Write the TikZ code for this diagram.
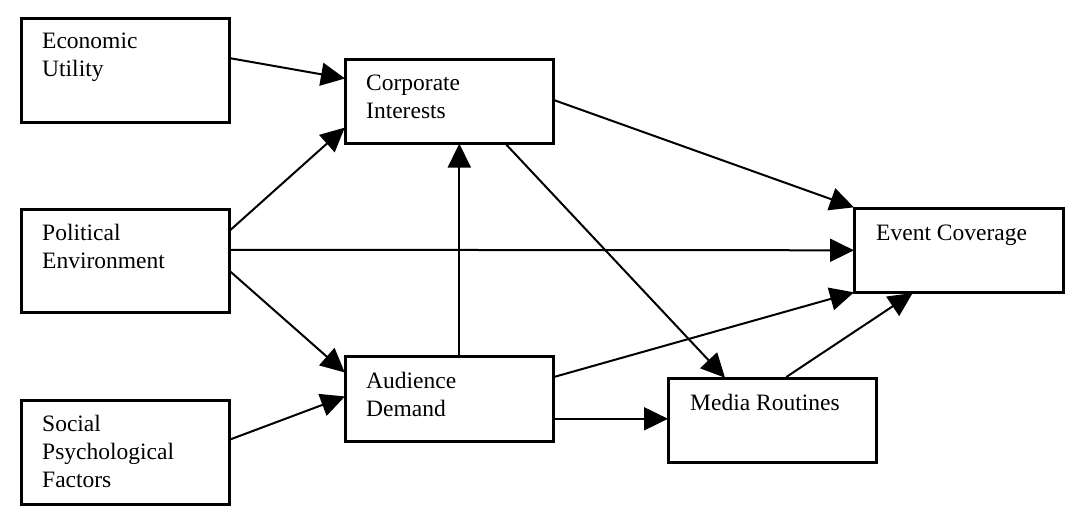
\documentclass[tikz,border=0pt]{standalone}
\usepackage{fontspec}
\setmainfont{Liberation Serif}
\usetikzlibrary{arrows.meta}
\begin{document}
\begin{tikzpicture}[
    x=1pt, y=-1pt,
    every node/.style={font=\fontsize{23.5}{28}\selectfont},
    box/.style={
        rectangle,
        draw,
        line width=2.6pt,
        anchor=north west,
        minimum width=#1,
        inner sep=0pt
    },
    box/.default=208pt,
    caption/.style={
        align=left,
        anchor=base west,
        inner sep=0pt
    },
    link/.style={
        -{Triangle[length=24pt,width=23pt]},
        line width=2pt,
        shorten >=-1pt
    }
]

% Boxes
\node[box, minimum height=104pt] (eu) at (20,17) {};
\node[box, minimum height=103pt] (pe) at (20,208) {};
\node[box, minimum height=104pt] (spf) at (20,399) {};
\node[box, minimum height=84pt] (ci) at (344,58) {};
\node[box, minimum height=85pt] (ad) at (344,355) {};
\node[box, minimum height=84pt] (mr) at (667,377) {};
\node[box=209pt, minimum height=84pt] (ec) at (853,207) {};

% Texts (base = last line)
\node[caption] (eutext) at ([xshift=22pt,yshift=-60pt]eu.north west) {Economic\\Utility};
\node[caption] (petext) at ([xshift=22pt,yshift=-60pt]pe.north west) {Political\\Environment};
\node[caption] (spftext) at ([xshift=22pt,yshift=-88pt]spf.north west) {Social\\Psychological\\Factors};
\node[caption] (citext) at ([xshift=22pt,yshift=-61pt]ci.north west) {Corporate\\Interests};
\node[caption] (adtext) at ([xshift=22pt,yshift=-61pt]ad.north west) {Audience\\Demand};
\node[caption] (mrtext) at ([xshift=23pt,yshift=-33pt]mr.north west) {Media Routines};
\node[caption] (ectext) at ([xshift=23pt,yshift=-33pt]ec.north west) {Event Coverage};

% Links
\draw[link] ([yshift=12pt]eu.east) -- ([yshift=23pt]ci.west);
\draw[link] ([yshift=31pt]pe.east) -- ([yshift=-27pt]ci.west);
\draw[link] ([yshift=11pt]pe.east) -- (ec.west);
\draw[link] ([yshift=-11pt]pe.east) -- ([yshift=27pt]ad.west);
\draw[link] ([yshift=13pt]spf.east) -- ([yshift=2pt]ad.west);
\draw[link] ([xshift=10pt]ad.north) -- ([xshift=10pt]ci.south);
\draw[link] ([yshift=1pt]ci.east) -- (ec.north west);
\draw[link] ([xshift=57pt]ci.south) -- ([xshift=-48pt]mr.north);
\draw[link] ([yshift=22pt]ad.east) -- ([yshift=1pt]ec.south west);
\draw[link] ([yshift=-20pt]ad.east) coordinate (adout) -- (adout -| mr.west);
\draw[link] ([xshift=14pt]mr.north) -- ([xshift=-47pt]ec.south);

% Frame
\useasboundingbox (0,0) rectangle (1076,516);

\end{tikzpicture}
\end{document}
